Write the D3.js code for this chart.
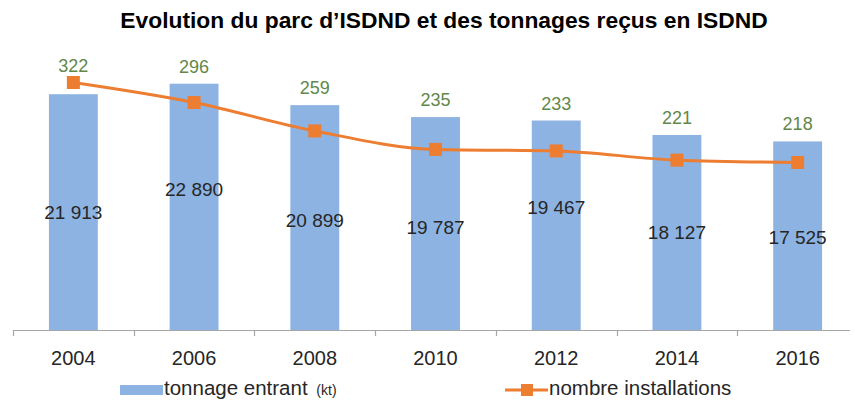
<!DOCTYPE html>
<html>
<head>
<meta charset="utf-8">
<script src="https://cdn.jsdelivr.net/npm/d3@7"></script>
<style>
  html, body { margin: 0; padding: 0; background: #fff; }
  svg { display: block; font-family: "Liberation Sans", Arial, sans-serif; }
</style>
</head>
<body>
<svg id="chart" width="855" height="401"></svg>
<script>
// Années, tonnages entrants (kt) et nombre d'installations
const years = ["2004", "2006", "2008", "2010", "2012", "2014", "2016"];
const tonnages = [21913, 22890, 20899, 19787, 19467, 18127, 17525];
const installations = [322, 296, 259, 235, 233, 221, 218];
// Décalage vertical des étiquettes de tonnage par rapport au milieu de la barre
const labelShift = [0, -18, 2, 3, -18, 0, 1];

const svg = d3.select("#chart");
const W = 855, H = 401;
const plot = { left: 13, right: 858, top: 61, bottom: 330 };

const x = d3.scaleBand().domain(years).range([plot.left, plot.right]).paddingInner(0.595).paddingOuter(0.2975);
const y = d3.scaleLinear().domain([0, 25000]).range([plot.bottom, plot.top]);
const y2 = d3.scaleLinear().domain([0, 350]).range([plot.bottom, plot.top]);
const cx = d => x(d) + x.bandwidth() / 2;

const fmt = v => d3.format(",")(v).replace(/,/g, " ");

// Titre
svg.append("text")
  .attr("x", 444).attr("y", 28)
  .attr("text-anchor", "middle")
  .attr("font-weight", "bold")
  .attr("font-size", 22.8)
  .attr("fill", "#000")
  .text("Evolution du parc d\u2019ISDND et des tonnages reçus en ISDND");

// Barres
svg.append("g").selectAll("rect").data(years).join("rect")
  .attr("x", d => x(d))
  .attr("width", x.bandwidth())
  .attr("y", (d, i) => y(tonnages[i]))
  .attr("height", (d, i) => y(0) - y(tonnages[i]))
  .attr("fill", "#8DB3E2");

// Axe horizontal
const band = d3.scaleBand().domain(years).range([plot.left, plot.right]);
const axisG = svg.append("g");
axisG.append("line")
  .attr("x1", plot.left).attr("x2", 850)
  .attr("y1", plot.bottom + 0.5).attr("y2", plot.bottom + 0.5)
  .attr("stroke", "#A6A6A6").attr("stroke-width", 1.2);
axisG.selectAll("line.tick").data(years).join("line")
  .attr("class", "tick")
  .attr("x1", d => Math.round(band(d)) + 0.5).attr("x2", d => Math.round(band(d)) + 0.5)
  .attr("y1", plot.bottom).attr("y2", plot.bottom + 6)
  .attr("stroke", "#A6A6A6").attr("stroke-width", 1.2);
axisG.selectAll("text").data(years).join("text")
  .attr("x", d => cx(d))
  .attr("y", 365)
  .attr("text-anchor", "middle")
  .attr("font-size", 20)
  .attr("fill", "#262626")
  .text(d => d);

// Étiquettes des barres
svg.append("g").selectAll("text").data(years).join("text")
  .attr("x", d => cx(d))
  .attr("y", (d, i) => (y(tonnages[i]) + y(0)) / 2 + labelShift[i] + 7)
  .attr("text-anchor", "middle")
  .attr("font-size", 19)
  .attr("fill", "#262626")
  .text((d, i) => fmt(tonnages[i]));

// Courbe du nombre d'installations
const line = d3.line()
  .x(d => cx(d.year))
  .y(d => y2(d.value))
  .curve(d3.curveMonotoneX);
const pts = years.map((yr, i) => ({ year: yr, value: installations[i], top: y(tonnages[i]) }));
svg.append("path")
  .datum(pts)
  .attr("d", line)
  .attr("fill", "none")
  .attr("stroke", "#ED7D31")
  .attr("stroke-width", 3);
svg.append("g").selectAll("rect").data(pts).join("rect")
  .attr("x", d => cx(d.year) - 6.5)
  .attr("y", d => y2(d.value) - 6.5)
  .attr("width", 13).attr("height", 13)
  .attr("fill", "#ED7D31");
// Valeurs placées au-dessus du point ou de la barre, selon le plus haut
svg.append("g").selectAll("text").data(pts).join("text")
  .attr("x", d => cx(d.year))
  .attr("y", d => Math.min(y2(d.value), d.top) - 11)
  .attr("text-anchor", "middle")
  .attr("font-size", 18)
  .attr("fill", "#62874A")
  .text(d => d.value);

// Légende
const leg = svg.append("g");
leg.append("rect")
  .attr("x", 120).attr("y", 385).attr("width", 43).attr("height", 10)
  .attr("fill", "#8DB3E2");
const t1 = leg.append("text")
  .attr("x", 164).attr("y", 395)
  .attr("font-size", 20.5)
  .attr("fill", "#262626");
t1.append("tspan").text("tonnage entrant ");
t1.append("tspan").attr("font-size", 14).attr("dx", 3).text("(kt)");
leg.append("line")
  .attr("x1", 505).attr("x2", 548).attr("y1", 390).attr("y2", 390)
  .attr("stroke", "#ED7D31").attr("stroke-width", 3);
leg.append("rect")
  .attr("x", 521).attr("y", 384).attr("width", 12).attr("height", 12)
  .attr("fill", "#ED7D31");
leg.append("text")
  .attr("x", 549).attr("y", 395)
  .attr("font-size", 20.5)
  .attr("fill", "#262626")
  .text("nombre installations");
</script>
</body>
</html>
